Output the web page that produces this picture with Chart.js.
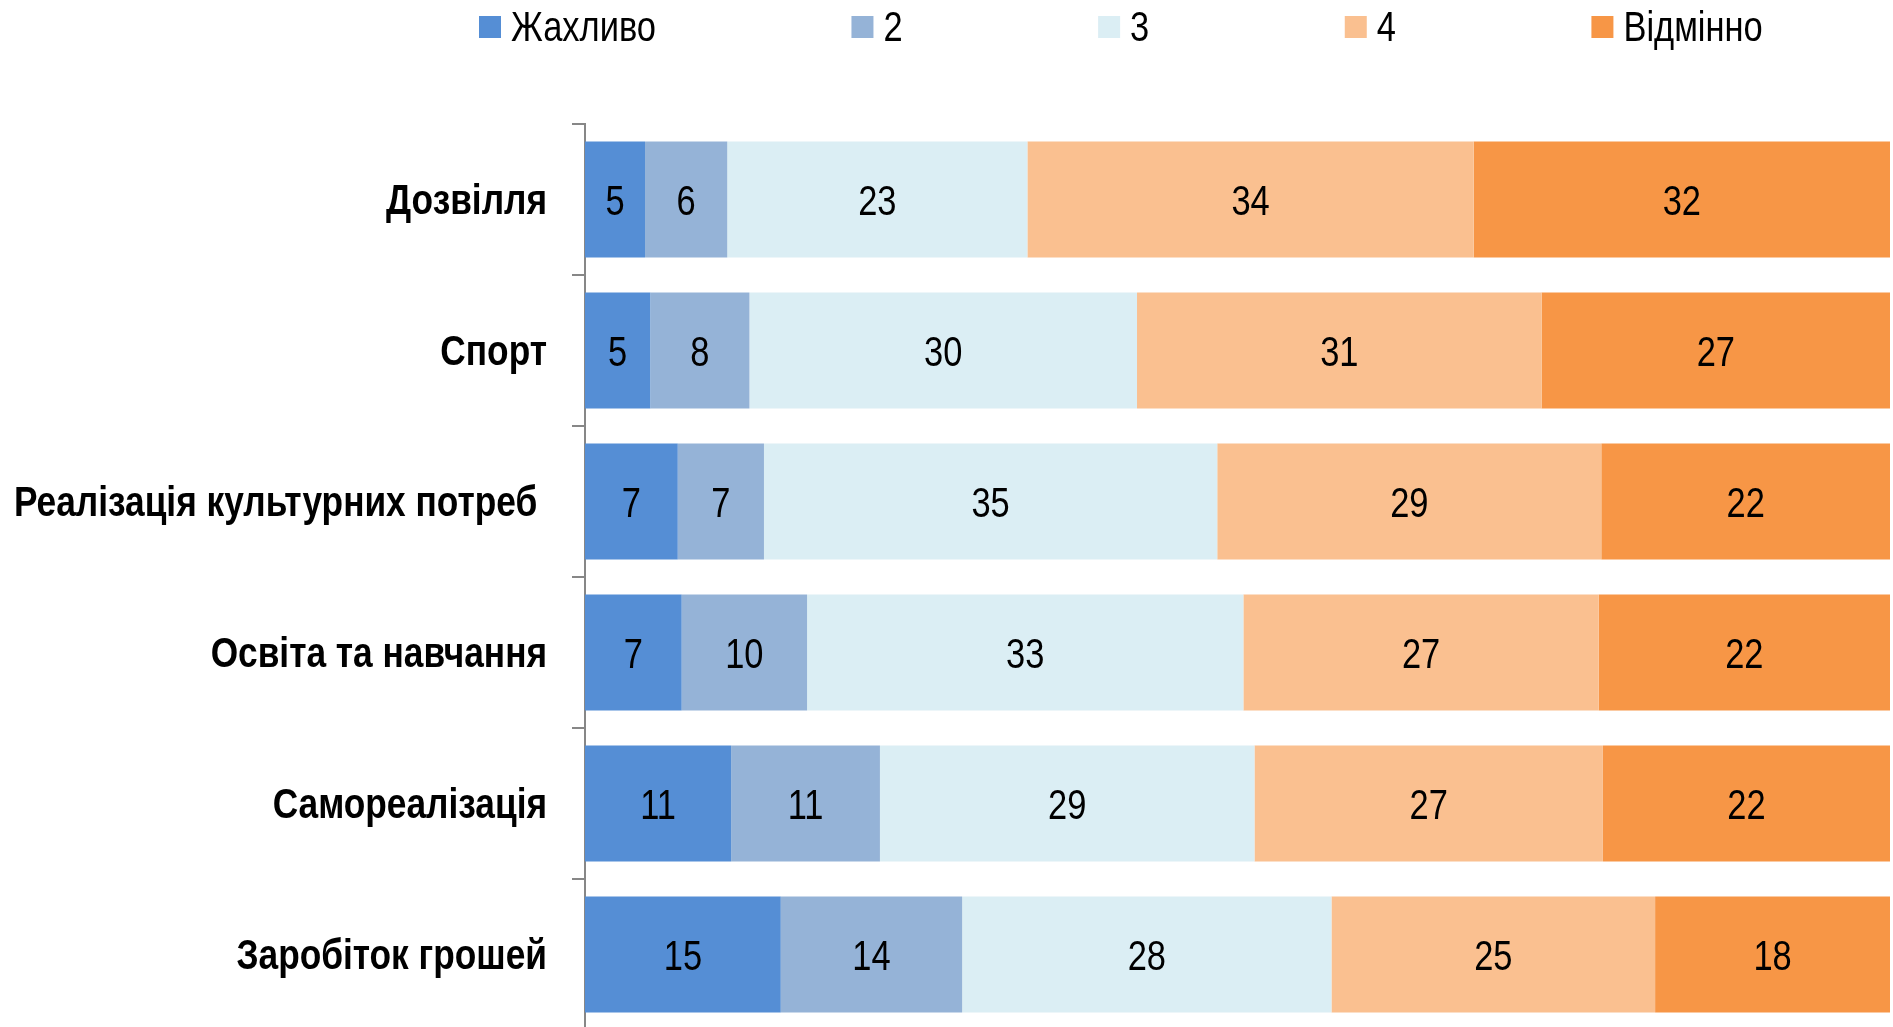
<!DOCTYPE html>
<html>
<head>
<meta charset="utf-8">
<script src="https://cdn.jsdelivr.net/npm/chart.js@4/dist/chart.umd.min.js"></script>
<style>
  html, body { margin: 0; padding: 0; background: #ffffff; overflow: hidden; }
  #wrap { position: relative; width: 1893px; height: 1027px; overflow: hidden; background: #ffffff; }
  #chart { position: absolute; left: 0; top: 0; }
</style>
</head>
<body>
<div id="wrap">
  <canvas id="chart" width="1893" height="1031"></canvas>
</div>
<script>
const categories = ['Дозвілля', 'Спорт', 'Реалізація культурних потреб ', 'Освіта та навчання', 'Самореалізація', 'Заробіток грошей'];
const seriesNames = ['Жахливо', '2', '3', '4', 'Відмінно'];
// shares (%); labels show them rounded
const awful     = [4.6, 5.0, 7.1, 7.4, 11.2, 15.0];
const two       = [6.3, 7.6, 6.6, 9.6, 11.4, 13.9];
const three     = [23.0, 29.7, 34.7, 33.4, 28.7, 28.3];
const four      = [34.2, 31.0, 29.4, 27.2, 26.7, 24.8];
const excellent = [31.9, 26.7, 22.1, 22.3, 22.0, 18.0];
const seriesValues = [awful, two, three, four, excellent];
const colors = ['#558ED5', '#95B3D7', '#DBEEF4', '#FAC090', '#F79646'];

const FAMILY = "'Liberation Sans', Arial, sans-serif";
const NARROW = 0.82; // horizontal condensing to imitate Arial Narrow

// 100% stacked: each row normalised to its total
const totals = categories.map((_, i) => seriesValues.reduce((s, arr) => s + arr[i], 0));
const datasets = seriesValues.map((arr, k) => ({
  label: seriesNames[k],
  data: arr.map((v, i) => v / totals[i] * 100),
  raw: arr,
  backgroundColor: colors[k],
  borderWidth: 0,
  categoryPercentage: 1,
  barPercentage: 0.768
}));

function narrowText(ctx, text, x, y, align) {
  ctx.save();
  ctx.translate(x, y);
  ctx.scale(NARROW, 1);
  ctx.textAlign = align;
  ctx.fillText(text, 0, 0);
  ctx.restore();
}

const valueLabels = {
  id: 'valueLabels',
  afterDatasetsDraw(chart) {
    const ctx = chart.ctx;
    ctx.save();
    ctx.font = '42px ' + FAMILY;
    ctx.fillStyle = '#000';
    ctx.textBaseline = 'middle';
    chart.data.datasets.forEach((ds, di) => {
      const meta = chart.getDatasetMeta(di);
      meta.data.forEach((el, i) => {
        narrowText(ctx, String(Math.round(ds.raw[i])), (el.x + el.base) / 2, el.y + 4, 'center');
      });
    });
    ctx.restore();
  }
};

const categoryLabels = {
  id: 'categoryLabels',
  afterDraw(chart) {
    const ctx = chart.ctx;
    const y = chart.scales.y;
    ctx.save();
    ctx.font = 'bold 43px ' + FAMILY;
    ctx.fillStyle = '#000';
    ctx.textBaseline = 'middle';
    const xRight = y.right - 13 - 25;
    chart.data.labels.forEach((lab, i) => {
      narrowText(ctx, lab, xRight, y.getPixelForTick(i) + 3, 'right');
    });
    ctx.restore();
  }
};

const canvasLegend = {
  id: 'canvasLegend',
  afterDraw(chart) {
    const ctx = chart.ctx;
    ctx.save();
    ctx.font = '42px ' + FAMILY;
    ctx.textBaseline = 'middle';
    let x = 479;
    const box = 22, boxTop = 16, textGap = 32, itemGap = 195.5, yText = 29;
    chart.data.datasets.forEach(ds => {
      ctx.fillStyle = ds.backgroundColor;
      ctx.fillRect(x, boxTop, box, box);
      ctx.fillStyle = '#000';
      narrowText(ctx, ds.label, x + textGap, yText, 'left');
      x += textGap + ctx.measureText(ds.label).width * NARROW + itemGap;
    });
    ctx.restore();
  }
};

new Chart(document.getElementById('chart'), {
  type: 'bar',
  data: { labels: categories, datasets },
  options: {
    indexAxis: 'y',
    responsive: false,
    animation: false,
    layout: { padding: { top: 124, left: 0, right: 3, bottom: 1 } },
    plugins: { legend: { display: false }, tooltip: { enabled: false } },
    scales: {
      x: { stacked: true, min: 0, max: 100, display: false },
      y: {
        stacked: true,
        afterFit(scale) { scale.width = 585; scale.paddingTop = 0; scale.paddingBottom = 0; },
        grid: { display: true, drawOnChartArea: false, drawTicks: true, tickLength: 13, color: '#878787', lineWidth: 2, offset: true },
        border: { display: true, color: '#878787', width: 2 },
        ticks: { display: false }
      }
    }
  },
  plugins: [valueLabels, categoryLabels, canvasLegend]
});
</script>
</body>
</html>
